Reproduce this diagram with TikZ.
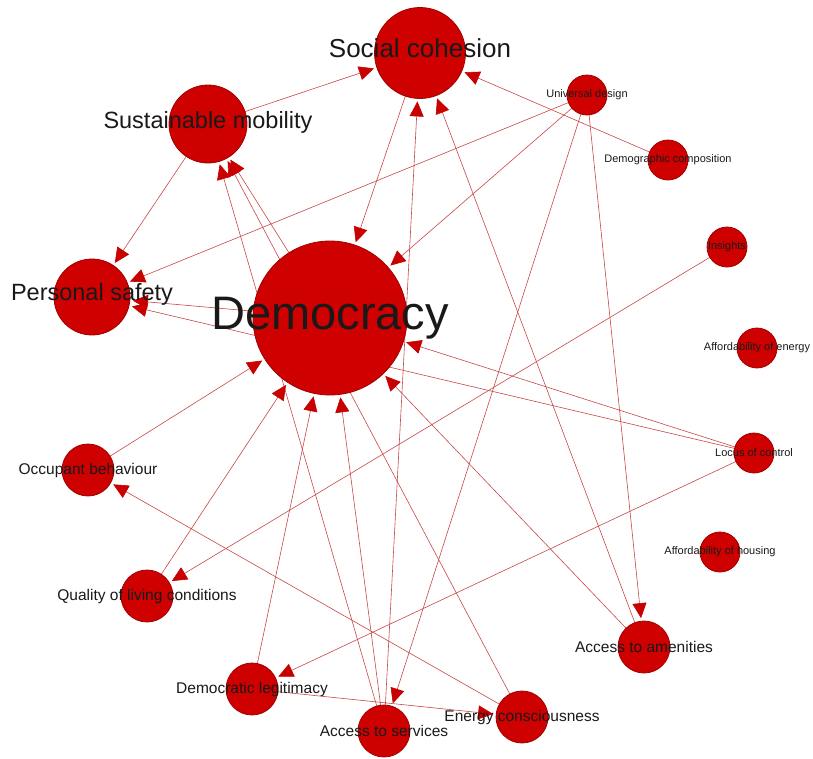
\documentclass[tikz,border=0pt]{standalone}
\usepackage{fontspec}
\setmainfont{Liberation Sans}
\usetikzlibrary{arrows.meta}
\definecolor{nodered}{RGB}{206,0,0}
\definecolor{noderim}{RGB}{160,0,0}
\definecolor{linkred}{RGB}{200,70,70}
\definecolor{tipred}{RGB}{200,0,0}
\definecolor{labelgray}{RGB}{25,25,25}
\newcommand{\fsz}[1]{\fontsize{#1}{#1}\selectfont}
\tikzstyle{vertex}=[circle,draw=noderim,fill=nodered,line width=0.8pt,inner sep=0pt,outer sep=0pt]
\tikzstyle{link}=[draw=linkred,line width=0.6pt,shorten >=3pt,-{Triangle[length=15pt,width=14pt,color=tipred]}]
\tikzstyle{tag}=[text=labelgray,inner sep=0pt]
\tikzstyle{hugetag}=[tag,font=\fsz{47}]
\tikzstyle{bigtag}=[tag,font=\fsz{23.5}]
\tikzstyle{midtag}=[tag,font=\fsz{15.5}]
\tikzstyle{smalltag}=[tag,font=\fsz{11}]
\pgfdeclarelayer{bg}
\pgfsetlayers{bg,main}
\begin{document}
\begin{tikzpicture}[x=1pt,y=-1pt]
  \useasboundingbox (0,0) rectangle (813,758);
  % hubs
  \node[vertex,minimum size=154pt,label={[hugetag]center:Democracy}] (dem) at (330,318) {};
  \node[vertex,minimum size=91pt,label={[bigtag,font=\fsz{26},yshift=5pt]center:Social cohesion}] (social) at (420,53) {};
  \node[vertex,minimum size=78pt,label={[bigtag,yshift=2pt]center:Sustainable mobility}] (sust) at (208,124) {};
  \node[vertex,minimum size=76pt,label={[bigtag,yshift=3pt]center:Personal safety}] (safety) at (92,297) {};
  % ring
  \node[vertex,minimum size=52pt,label={[midtag]center:Occupant behaviour}] (occupant) at (88,470) {};
  \node[vertex,minimum size=52pt,label={[midtag]center:Quality of living conditions}] (quality) at (147,596) {};
  \node[vertex,minimum size=52pt,label={[midtag]center:Democratic legitimacy}] (legit) at (252,689) {};
  \node[vertex,minimum size=52pt,label={[midtag]center:Access to services}] (services) at (384,731) {};
  \node[vertex,minimum size=52pt,label={[midtag]center:Energy consciousness}] (energy) at (522,717) {};
  \node[vertex,minimum size=52pt,label={[midtag]center:Access to amenities}] (amenities) at (644,647) {};
  \node[vertex,minimum size=40pt,label={[smalltag]center:Universal design}] (universal) at (587,95) {};
  \node[vertex,minimum size=40pt,label={[smalltag]center:Demographic composition}] (demog) at (668,160) {};
  \node[vertex,minimum size=40pt,label={[smalltag]center:Insights}] (insights) at (727,247) {};
  \node[vertex,minimum size=40pt,label={[smalltag]center:Affordability of energy}] (affenergy) at (757,348) {};
  \node[vertex,minimum size=40pt,label={[smalltag]center:Locus of control}] (locus) at (754,453) {};
  \node[vertex,minimum size=40pt,label={[smalltag]center:Affordability of housing}] (affhousing) at (720,552) {};
  % links under the nodes
  \begin{pgfonlayer}{bg}
    \foreach \a/\b in {sust/social, sust/safety, dem/sust, services/sust, energy/sust,
        social/dem, universal/dem, universal/safety, universal/services, universal/amenities,
        demog/social, services/social, amenities/social, dem/safety, locus/safety,
        locus/dem, locus/legit, occupant/dem, quality/dem, legit/dem, services/dem,
        amenities/dem, insights/quality, energy/occupant, legit/energy}
      \draw[link] (\a) -- (\b);
  \end{pgfonlayer}
\end{tikzpicture}
\end{document}
